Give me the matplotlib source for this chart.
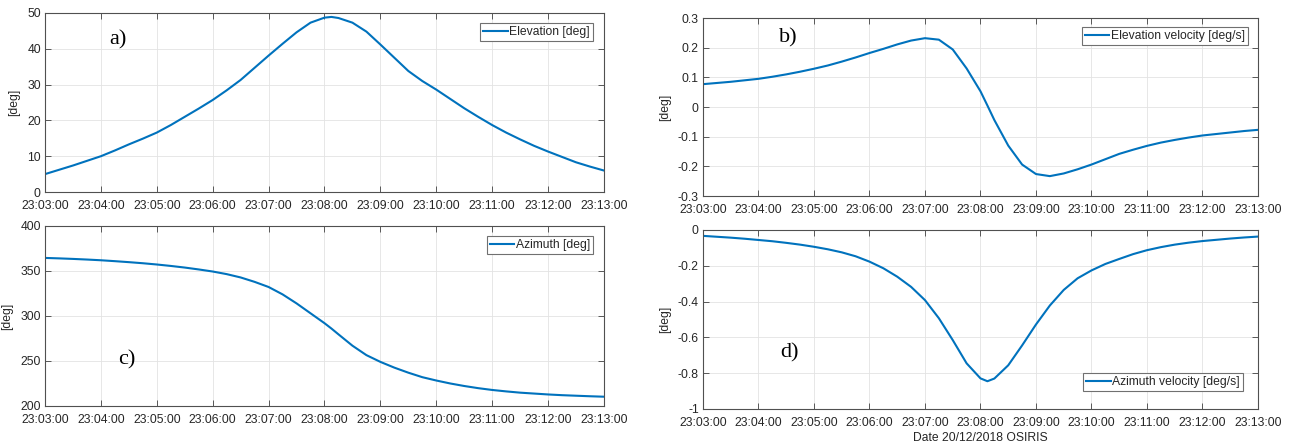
import matplotlib
matplotlib.use("Agg")
import matplotlib.pyplot as plt
import numpy as np

# ─── data (minutes after 23:03:00, 15 s step + 23:08:07.5) ─
t_min = np.sort(np.append(np.linspace(0, 10, 41), 5.125))

elevation = [5.0, 6.2, 7.4, 8.7, 10.0, 11.6, 13.3, 14.9, 16.6, 18.7, 21.0,
             23.3, 25.7, 28.4, 31.3, 34.7, 38.1, 41.4, 44.6, 47.3, 48.7,
             48.9, 48.6, 47.3, 44.8, 41.2, 37.5, 33.8, 31.0, 28.6, 26.0,
             23.4, 21.0, 18.7, 16.6, 14.7, 12.9, 11.3, 9.8, 8.3, 7.1, 6.0]

elev_vel = [0.077, 0.081, 0.085, 0.090, 0.095, 0.102, 0.110, 0.119, 0.129,
            0.140, 0.153, 0.167, 0.182, 0.196, 0.211, 0.224, 0.232, 0.227,
            0.194, 0.130, 0.053, 0.005, -0.044, -0.130, -0.194, -0.226,
            -0.233, -0.224, -0.210, -0.194, -0.176, -0.158, -0.144, -0.131,
            -0.120, -0.111, -0.103, -0.096, -0.091, -0.086, -0.081, -0.077]

azimuth = [364.5, 364.0, 363.4, 362.7, 361.9, 360.9, 359.8, 358.6, 357.2,
           355.6, 353.8, 351.7, 349.4, 346.5, 342.8, 337.9, 332.2, 324.0,
           314.0, 303.0, 292.0, 286.0, 279.6, 267.0, 256.5, 249.0, 242.6,
           237.0, 232.0, 228.3, 225.0, 222.2, 219.8, 217.8, 216.2, 214.8,
           213.8, 212.8, 212.0, 211.4, 210.8, 210.3]

az_vel = [-0.033, -0.038, -0.043, -0.049, -0.056, -0.063, -0.072, -0.082,
          -0.094, -0.108, -0.125, -0.147, -0.177, -0.214, -0.261, -0.318,
          -0.392, -0.493, -0.615, -0.745, -0.829, -0.845, -0.830, -0.756,
          -0.645, -0.528, -0.422, -0.335, -0.270, -0.226, -0.190, -0.162,
          -0.135, -0.113, -0.096, -0.082, -0.071, -0.062, -0.055, -0.048,
          -0.042, -0.037]

x_ticks = list(range(0, 11))
x_labels = [f"23:{3 + m:02d}:00" for m in x_ticks]

# ─── style (MATLAB-ish look) ────────────────────────────────────────────────
plt.rcParams['font.family'] = ['Liberation Sans', 'DejaVu Sans']
plt.rcParams['axes.unicode_minus'] = False
line_col = '#0072BD'
txt_col = '#262626'
fs = 8.7

fig = plt.figure(figsize=(12.93, 4.48), dpi=100)

ax_a = fig.add_axes([0.0348, 0.5714, 0.4323, 0.3996])
ax_c = fig.add_axes([0.0348, 0.0938, 0.4323, 0.4018])
ax_b = fig.add_axes([0.5437, 0.5625, 0.4292, 0.3973])
ax_d = fig.add_axes([0.5437, 0.0871, 0.4292, 0.3996])

panels = [
    (ax_a, elevation, 'Elevation [deg]', (0, 50), np.arange(0, 51, 10),
     'a)', (0.13, 0.85), 'upper right', (1 - 11 / 559, 1 - 10 / 179)),
    (ax_b, elev_vel, 'Elevation velocity [deg/s]', (-0.3, 0.3),
     np.round(np.arange(-0.3, 0.31, 0.1), 1),
     'b)', (0.153, 0.888), 'upper right', (1 - 10 / 555, 1 - 9 / 178)),
    (ax_c, azimuth, 'Azimuth [deg]', (200, 400), np.arange(200, 401, 50),
     'c)', (0.147, 0.256), 'upper right', (1 - 11 / 559, 1 - 10 / 180)),
    (ax_d, az_vel, 'Azimuth velocity [deg/s]', (-1, 0),
     np.round(np.arange(-1, 0.01, 0.2), 1),
     'd)', (0.155, 0.313), 'lower right', (0.973, 0.10)),
]

for ax, y, lab, ylim, yt, tag, tag_pos, loc, anchor in panels:
    ax.plot(t_min, y, color=line_col, lw=1.5, label=lab,
            solid_joinstyle='round')
    ax.set_xlim(0, 10)
    ax.set_ylim(*ylim)
    ax.set_xticks(x_ticks)
    ax.set_xticklabels(x_labels)
    ax.set_yticks(yt)
    ax.set_yticklabels([f"{v + 0.0:g}" for v in yt])
    ax.tick_params(direction='in', top=True, right=True, length=4,
                   width=0.6, color='#404040', labelsize=fs,
                   labelcolor=txt_col)
    ax.tick_params(axis='x', pad=6)
    ax.tick_params(axis='y', pad=3)
    ax.grid(True, color='#e3e3e3', lw=0.6)
    ax.set_axisbelow(True)
    for sp in ax.spines.values():
        sp.set_color('#505050')
        sp.set_linewidth(0.8)
    ax.set_ylabel('[deg]', fontsize=fs, color=txt_col, labelpad=5)
    leg = ax.legend(loc=loc, bbox_to_anchor=anchor, borderaxespad=0,
                    fontsize=fs, fancybox=False, framealpha=1,
                    edgecolor='#707070', handlelength=2.0,
                    handletextpad=0.15, borderpad=0.25)
    leg.get_frame().set_linewidth(0.8)
    for txt in leg.get_texts():
        txt.set_color(txt_col)
    ax.text(*tag_pos, tag, transform=ax.transAxes, ha='center', va='center',
            fontsize=16, family='Liberation Serif', color='black')

ax_d.set_xlabel('Date 20/12/2018 OSIRIS', fontsize=fs, color=txt_col,
                labelpad=2)

fig.savefig('out.png', dpi=100)
